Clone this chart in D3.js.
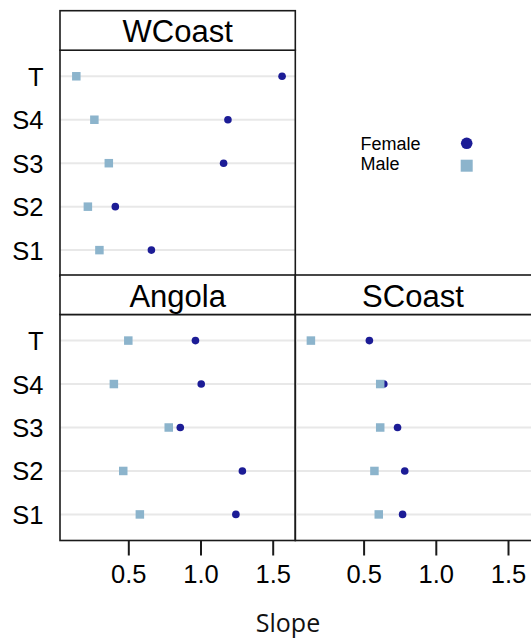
<!DOCTYPE html>
<html>
<head>
<meta charset="utf-8">
<script src="https://cdn.jsdelivr.net/npm/d3@7"></script>
<style>
  html, body { margin: 0; padding: 0; background: #fff; }
  svg { display: block; }
</style>
</head>
<body>
<svg id="chart" width="531" height="640"></svg>
<script>
// Sites along the y axis (bottom to top)
const sites = ["S1", "S2", "S3", "S4", "T"];
const regions = ["WCoast", "Angola", "SCoast"];
const groups = ["Female", "Male"];
const xTicks = [0.5, 1.0, 1.5];

// Slope estimates per site (S1, S2, S3, S4, T)
const wcoastFemale = [0.66, 0.41, 1.16, 1.19, 1.565];
const wcoastMale   = [0.30, 0.22, 0.365, 0.265, 0.14];
const angolaFemale = [1.245, 1.29, 0.86, 1.005, 0.965];
const angolaMale   = [0.58, 0.465, 0.78, 0.40, 0.50];
const scoastFemale = [0.77, 0.785, 0.735, 0.64, 0.54];
const scoastMale   = [0.605, 0.575, 0.615, 0.615, 0.135];

const female = { WCoast: wcoastFemale, Angola: angolaFemale, SCoast: scoastFemale };
const male   = { WCoast: wcoastMale,   Angola: angolaMale,   SCoast: scoastMale };

const femaleColor = "#1c1c96";
const maleColor = "#8cb4cc";
const labelFont = "'Liberation Sans', Arial, sans-serif";

const svg = d3.select("#chart");

// Panel geometry: two columns, two rows (top-right empty, used for the key)
const colX = [60, 295.3];
const panelW = 235.3;
const rowTop = [10.7, 275];
const stripH = 39.5;
const panelH = 226;

const x = d3.scaleLinear().domain([0.027, 1.6565]).range([0, panelW]);
const y = d3.scaleLinear().domain([0.4, 5.6]).range([panelH, 0]);

const layout = [
  { region: "WCoast", col: 0, row: 0 },
  { region: "Angola", col: 0, row: 1 },
  { region: "SCoast", col: 1, row: 1 }
];

layout.forEach(p => {
  const gx = colX[p.col];
  const top = rowTop[p.row];
  // the right column runs on past the edge of the page
  const frameW = p.col === 1 ? panelW + 4 : panelW;
  const g = svg.append("g").attr("transform", `translate(${gx},${top + stripH})`);

  // grid lines for each site
  g.selectAll("line.grid").data(sites).join("line")
    .attr("class", "grid")
    .attr("x1", 0).attr("x2", frameW)
    .attr("y1", (d, i) => y(i + 1)).attr("y2", (d, i) => y(i + 1))
    .attr("stroke", "#e8e8e8").attr("stroke-width", 2);

  // Female points
  g.selectAll("circle.f").data(female[p.region]).join("circle")
    .attr("class", "f")
    .attr("cx", d => x(d)).attr("cy", (d, i) => y(i + 1))
    .attr("r", 3.8).attr("fill", femaleColor);

  // Male points
  const s = 8.5;
  g.selectAll("rect.m").data(male[p.region]).join("rect")
    .attr("class", "m")
    .attr("x", d => x(d) - s / 2).attr("y", (d, i) => y(i + 1) - s / 2)
    .attr("width", s).attr("height", s).attr("fill", maleColor);

  // panel frame
  g.append("rect").attr("x", 0).attr("y", 0).attr("width", frameW).attr("height", panelH)
    .attr("fill", "none").attr("stroke", "#1a1a1a").attr("stroke-width", 1.6);

  // strip
  const sg = svg.append("g").attr("transform", `translate(${gx},${top})`);
  sg.append("rect").attr("x", 0).attr("y", 0).attr("width", frameW).attr("height", stripH)
    .attr("fill", "#fff").attr("stroke", "#1a1a1a").attr("stroke-width", 1.6);
  sg.append("text").attr("x", panelW / 2).attr("y", 31.5)
    .attr("text-anchor", "middle").attr("font-family", labelFont)
    .attr("font-size", 31).attr("fill", "#000").text(p.region);

  // y labels on the left column
  if (p.col === 0) {
    g.selectAll("text.ylab").data(sites).join("text")
      .attr("class", "ylab")
      .attr("x", -16.5).attr("y", (d, i) => y(i + 1) + 9.5)
      .attr("text-anchor", "end").attr("font-family", labelFont)
      .attr("font-size", 25.5).attr("fill", "#000").text(d => d);
  }

  // x axis on the bottom row
  if (p.row === 1) {
    const ax = g.append("g").attr("transform", `translate(0,${panelH})`)
      .call(d3.axisBottom(x).tickValues(xTicks).tickFormat(d3.format(".1f"))
        .tickSize(15).tickSizeOuter(0).tickPadding(9));
    ax.select(".domain").remove();
    ax.selectAll(".tick line").attr("stroke", "#1a1a1a").attr("stroke-width", 2);
    ax.selectAll(".tick text").attr("font-family", labelFont)
      .attr("font-size", 25.5).attr("fill", "#000").attr("dy", "0.72em");
  }
});

// x axis title
svg.append("text").attr("x", 288).attr("y", 632)
  .attr("text-anchor", "middle").attr("font-family", "'Open Sans', 'Noto Sans', sans-serif")
  .attr("font-size", 25).attr("fill", "#111").text("Slope");

// key
const key = svg.append("g");
groups.forEach((name, i) => {
  const by = 150 + i * 20;
  key.append("text").attr("x", 360.5).attr("y", by)
    .attr("font-family", labelFont).attr("font-size", 18).attr("fill", "#000").text(name);
  if (name === "Female") {
    key.append("circle").attr("cx", 466.7).attr("cy", by - 6.7).attr("r", 5.8).attr("fill", femaleColor);
  } else {
    key.append("rect").attr("x", 466.7 - 6).attr("y", by - 4.3 - 6).attr("width", 12).attr("height", 12).attr("fill", maleColor);
  }
});
</script>
</body>
</html>
